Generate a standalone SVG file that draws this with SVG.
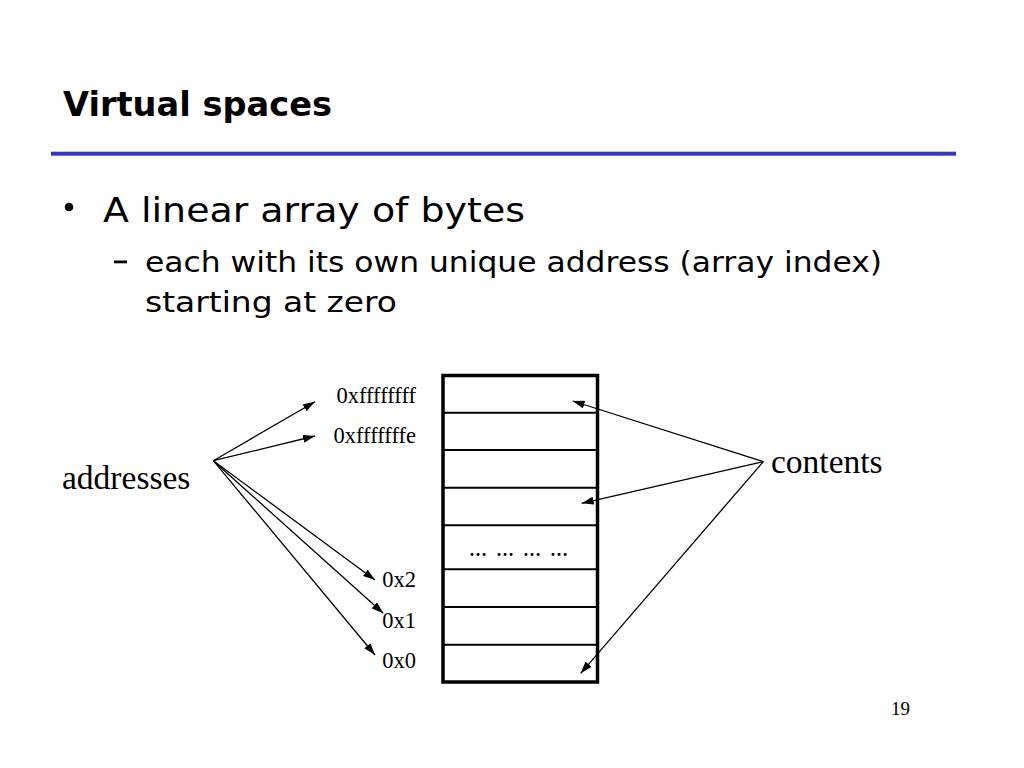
<svg xmlns="http://www.w3.org/2000/svg" width="1024" height="768" viewBox="0 0 1024 768">
  <style>
    .title { font-family: "DejaVu Sans", "Liberation Sans", sans-serif; font-weight: bold; font-size: 33px; fill: #000; }
    .bul { font-family: "DejaVu Sans", "Liberation Sans", sans-serif; font-size: 34px; fill: #000; }
    .sub { font-family: "DejaVu Sans", "Liberation Sans", sans-serif; font-size: 29px; fill: #000; }
    .addr { font-family: "Liberation Serif", "Times New Roman", serif; font-size: 22.5px; fill: #000; text-anchor: end; }
    .big { font-family: "Liberation Serif", "Times New Roman", serif; font-size: 33.5px; fill: #000; }
    .pg { font-family: "Liberation Serif", "Times New Roman", serif; font-size: 19px; fill: #000; }
    .row { stroke: #000; stroke-width: 2; fill: none; }
    .conn { stroke: #000; stroke-width: 1.3; fill: none; marker-end: url(#ah); }
  </style>
  <defs>
    <marker id="ah" viewBox="0 0 12 8" refX="12" refY="4" markerWidth="12" markerHeight="8" markerUnits="userSpaceOnUse" orient="auto">
      <path d="M0,0 L12,4 L0,8 Z" fill="#000"/>
    </marker>
  </defs>
  <rect width="1024" height="768" fill="#fff"/>

  <g id="title">
    <text class="title" x="63" y="116" textLength="269" lengthAdjust="spacingAndGlyphs">Virtual spaces</text>
    <rect x="51" y="151.7" width="905" height="4" fill="#3535c8"/>
  </g>

  <g id="bullets">
    <circle cx="69" cy="207" r="4.3" fill="#000"/>
    <text class="bul" x="103" y="222" textLength="422" lengthAdjust="spacingAndGlyphs">A linear array of bytes</text>
    <rect x="114" y="260.5" width="13" height="2.8" fill="#000"/>
    <text class="sub" x="145" y="272" textLength="737" lengthAdjust="spacingAndGlyphs">each with its own unique address (array index)</text>
    <text class="sub" x="145" y="312" textLength="252" lengthAdjust="spacingAndGlyphs">starting at zero</text>
  </g>

  <g id="memory">
    <rect x="443" y="375.5" width="154.5" height="306.5" fill="#fff" stroke="#000" stroke-width="3.5"/>
    <line class="row" x1="443" y1="412.7" x2="597.5" y2="412.7"/>
    <line class="row" x1="443" y1="450" x2="597.5" y2="450"/>
    <line class="row" x1="443" y1="487.7" x2="597.5" y2="487.7"/>
    <line class="row" x1="443" y1="525.3" x2="597.5" y2="525.3"/>
    <line class="row" x1="443" y1="569.3" x2="597.5" y2="569.3"/>
    <line class="row" x1="443" y1="607" x2="597.5" y2="607"/>
    <line class="row" x1="443" y1="644.7" x2="597.5" y2="644.7"/>
    <text x="469" y="556" font-family="Liberation Serif, serif" font-size="18" font-weight="bold" xml:space="preserve">…  …  …  …</text>
  </g>

  <g id="address-labels">
    <text class="addr" x="416" y="403">0xffffffff</text>
    <text class="addr" x="416" y="443">0xfffffffe</text>
    <text class="addr" x="416" y="587">0x2</text>
    <text class="addr" x="416" y="628">0x1</text>
    <text class="addr" x="416" y="668">0x0</text>
  </g>

  <g id="addresses">
    <text class="big" x="62" y="489">addresses</text>
  </g>
  <g id="contents">
    <text class="big" x="771" y="473">contents</text>
  </g>

  <g id="connectors">
    <line class="conn" x1="213.3" y1="460.7" x2="315" y2="401.7"/>
    <line class="conn" x1="213.3" y1="460.7" x2="315" y2="436"/>
    <line class="conn" x1="213.3" y1="460.7" x2="375" y2="580"/>
    <line class="conn" x1="213.3" y1="460.7" x2="383.3" y2="613.3"/>
    <line class="conn" x1="213.3" y1="460.7" x2="375" y2="655"/>
    <line class="conn" x1="763.3" y1="461.7" x2="572.7" y2="401"/>
    <line class="conn" x1="763.3" y1="461.7" x2="581.7" y2="503.3"/>
    <line class="conn" x1="763.3" y1="461.7" x2="580.7" y2="673.3"/>
  </g>

  <text class="pg" x="891" y="715">19</text>
</svg>
